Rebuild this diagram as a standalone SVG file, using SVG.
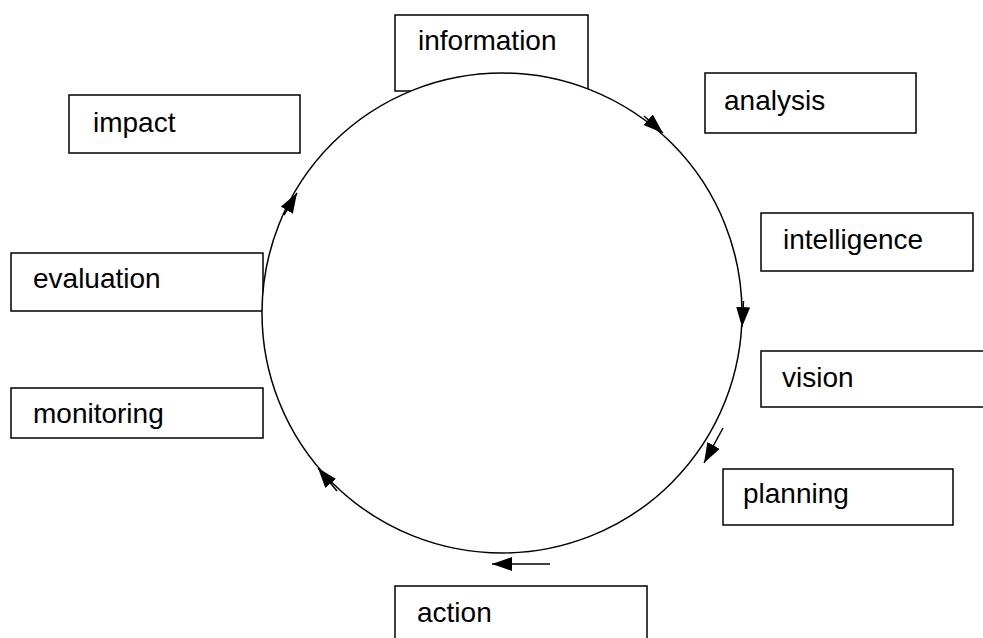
<svg xmlns="http://www.w3.org/2000/svg" width="983" height="638" viewBox="0 0 983 638">
<style>
.box{fill:#fff;stroke:#000;stroke-width:1.5}
.lbl{font-family:"Liberation Sans",Arial,sans-serif;font-size:28px;fill:#000}
.arr{fill:none;stroke:#000;stroke-width:1.5;marker-end:url(#ah)}
</style>
<defs>
<marker id="ah" markerUnits="userSpaceOnUse" markerWidth="22" markerHeight="16" refX="20" refY="7" orient="auto">
<path d="M0,0 L20,7 L0,14 z" fill="#000"/>
</marker>
</defs>
<rect width="983" height="638" fill="#fff"/>
<g id="information"><rect class="box" x="395" y="15" width="193" height="76"/><text class="lbl" x="418" y="50">information</text></g>
<g id="analysis"><rect class="box" x="705" y="73" width="211" height="60"/><text class="lbl" x="724" y="110">analysis</text></g>
<g id="intelligence"><rect class="box" x="761" y="213" width="212" height="58"/><text class="lbl" x="783" y="249">intelligence</text></g>
<g id="vision"><rect class="box" x="761" y="351" width="240" height="56"/><text class="lbl" x="782" y="387">vision</text></g>
<g id="planning"><rect class="box" x="723" y="469" width="230" height="56"/><text class="lbl" x="743" y="503">planning</text></g>
<g id="action"><rect class="box" x="395" y="586" width="252" height="70"/><text class="lbl" x="417" y="622">action</text></g>
<g id="impact"><rect class="box" x="69" y="95" width="231" height="58"/><text class="lbl" x="93" y="132">impact</text></g>
<g id="evaluation"><rect class="box" x="11" y="253" width="252" height="58"/><text class="lbl" x="33" y="288">evaluation</text></g>
<g id="monitoring"><rect class="box" x="11" y="388" width="252" height="50"/><text class="lbl" x="33" y="423">monitoring</text></g>
<g id="connectors">
<circle cx="502" cy="313" r="240" fill="#fff" stroke="#000" stroke-width="1.5"/>
<line class="arr" x1="644" y1="116" x2="663" y2="133"/>
<line class="arr" x1="743.5" y1="301" x2="742" y2="327"/>
<line class="arr" x1="723" y1="428" x2="704" y2="463"/>
<line class="arr" x1="550" y1="564" x2="492" y2="564"/>
<line class="arr" x1="337" y1="491" x2="318" y2="468"/>
<line class="arr" x1="284" y1="215" x2="297" y2="193"/>
</g>
</svg>
